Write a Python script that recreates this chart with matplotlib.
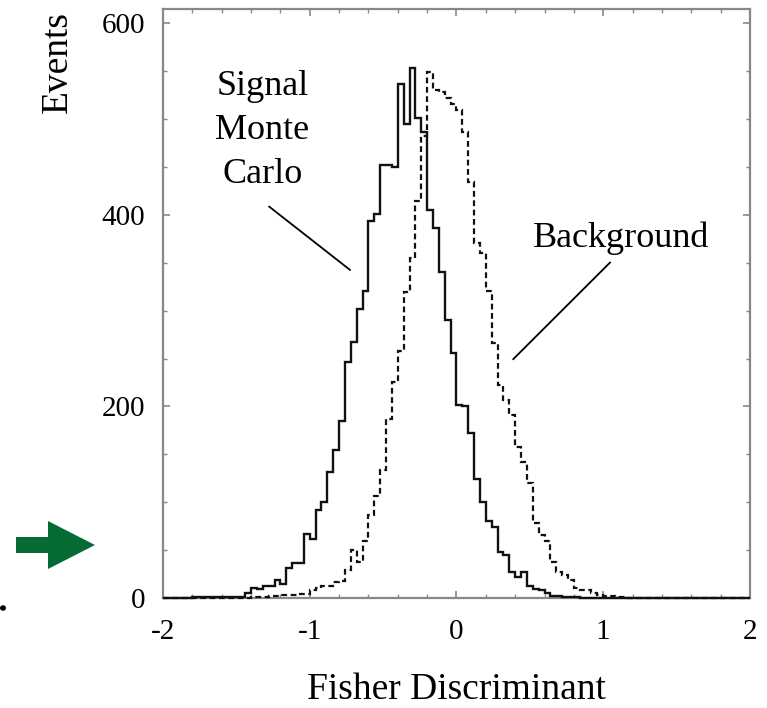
import numpy as np
import matplotlib
matplotlib.use('Agg')
import matplotlib.pyplot as plt
from matplotlib.patches import Polygon, Circle

plt.rcParams['font.family'] = ['Liberation Serif', 'DejaVu Serif']
plt.rcParams['axes.unicode_minus'] = False

# 100 bins of width 0.04 between -2 and 2
bin_lo, bin_hi, nbins = -2.0, 2.0, 100

signal = [0, 0, 0, 0, 0, 1, 1, 1, 1, 1,
          1, 1, 1, 1, 5, 10, 9, 13, 12, 19,
          15, 31, 36, 36, 67, 62, 92, 100, 132, 155,
          185, 246, 267, 302, 321, 394, 401, 452, 452, 450,
          537, 495, 553, 501, 487, 405, 386, 340, 290, 256,
          202, 200, 172, 124, 100, 80, 74, 48, 45, 27,
          22, 27, 12, 9, 8, 5, 2, 2, 1, 1,
          1, 0, 0, 0, 0, 0, 0, 0, 0, 0,
          0, 0, 0, 0, 0, 0, 0, 0, 0, 0,
          0, 0, 0, 0, 0, 0, 0, 0, 0, 0]

background = [0, 0, 0, 0, 0, 0, 0, 0, 0, 0,
              0, 0, 0, 0, 0, 1, 1, 1, 2, 2,
              3, 3, 3, 4, 4, 8, 10, 12, 13, 17,
              18, 29, 50, 38, 60, 87, 106, 134, 187, 225,
              258, 320, 355, 415, 482, 549, 530, 528, 522, 516,
              510, 487, 434, 371, 360, 321, 266, 222, 207, 191,
              158, 142, 120, 78, 66, 59, 38, 27, 24, 19,
              10, 8, 8, 5, 3, 2, 2, 1, 1, 0,
              0, 0, 0, 0, 0, 0, 0, 0, 0, 0,
              0, 0, 0, 0, 0, 0, 0, 0, 0, 0]

xticks = [-2, -1, 0, 1, 2]
xticklabels = ['-2', '-1', '0', '1', '2']
yticks = [0, 200, 400, 600]
yticklabels = ['0', '200', '400', '600']

edges = np.linspace(bin_lo, bin_hi, nbins + 1)

fig = plt.figure(figsize=(7.67, 7.08), dpi=100)
ax = fig.add_axes([0.2125, 0.1554, 0.7653, 0.8319])

ax.stairs(signal, edges, color='#111111', lw=1.7, zorder=3, clip_on=False)
ax.stairs(background, edges, color='#111111', lw=1.6, zorder=3, clip_on=False,
          linestyle=(0, (2.6, 1.6)))

ax.set_xlim(-2, 2)
ax.set_ylim(0, 615)
ax.set_xticks(xticks)
ax.set_xticklabels(xticklabels)
ax.set_yticks(yticks)
ax.set_yticklabels(yticklabels)
ax.set_xticks(np.arange(-2, 2.01, 0.2), minor=True)
ax.set_yticks(np.arange(0, 615, 50), minor=True)
ax.tick_params(which='both', direction='in', top=True, right=True,
               color='#888888', labelsize=21)
ax.tick_params(which='major', length=5, width=1.2)
ax.tick_params(which='minor', length=3, width=1.0)
ax.tick_params(axis='x', pad=15)
ax.tick_params(axis='y', pad=13)
for s in ax.spines.values():
    s.set_color('#888888')
    s.set_linewidth(1.6)

ax.set_xlabel('Fisher Discriminant', fontsize=27, labelpad=20)
fig.text(58 / 767, 1 - 62 / 708, 'Events', rotation=90, fontsize=27,
         ha='center', va='center')

# annotations
ax.text(-1.322, 488, 'Signal\nMonte\nCarlo', fontsize=26, ha='center',
        va='center', linespacing=1.45)
ax.plot([-1.276, -0.726], [408.6, 342.6], color='black', lw=1.3)
ax.text(1.124, 367, 'Background', fontsize=26, ha='center', va='baseline')
ax.plot([1.046, 0.387], [350.2, 249.4], color='black', lw=1.3)

# green arrow and dot on the left margin
W, H = 767.0, 708.0
pts = [(16, 537), (48, 537), (48, 521), (95, 545), (48, 569), (48, 553), (16, 553)]
fig.patches.append(Polygon([(x / W, 1 - y / H) for x, y in pts], closed=True,
                           transform=fig.transFigure, facecolor='#066a34',
                           edgecolor='none'))
fig.patches.append(Circle((3 / W, 1 - 608 / H), 3 / W, transform=fig.transFigure,
                          facecolor='black', edgecolor='none'))

fig.savefig('out.png', dpi=100)
